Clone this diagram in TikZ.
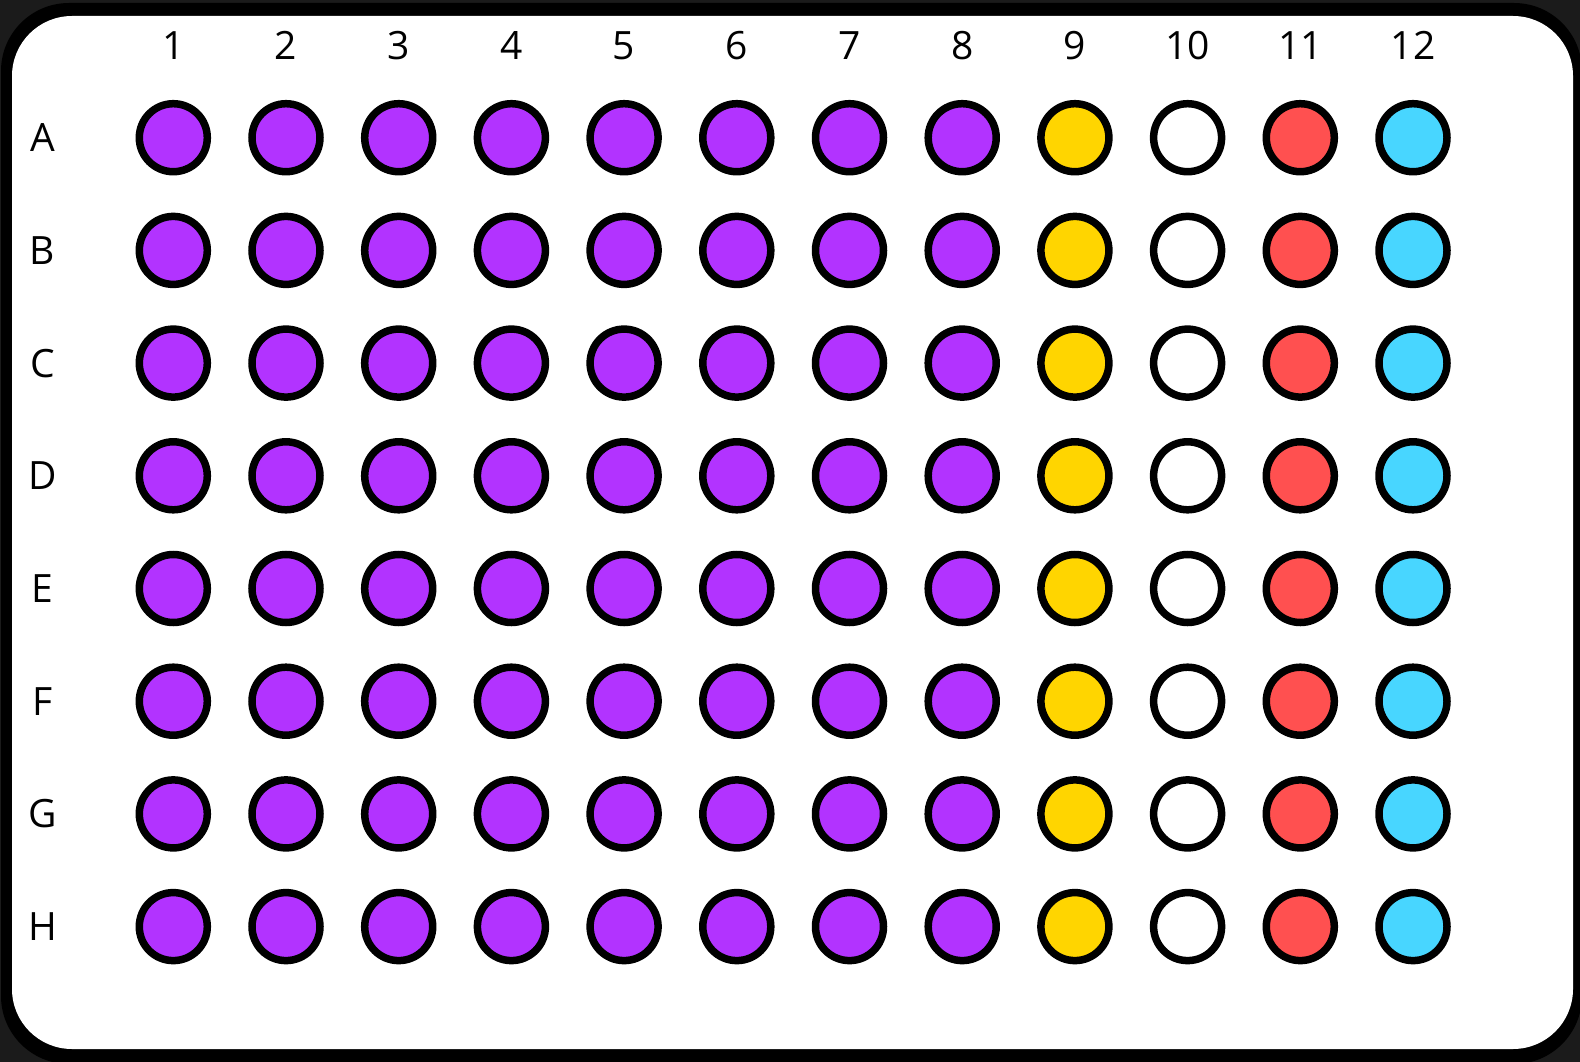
\documentclass[tikz,border=0pt]{standalone}
\usepackage{fontspec}
\setmainfont{Open Sans}
\definecolor{bgdark}{HTML}{1B1B1B}
\definecolor{wpurple}{HTML}{B233FF}
\definecolor{wyellow}{HTML}{FFD500}
\definecolor{wred}{HTML}{FF5050}
\definecolor{wcyan}{HTML}{48D6FF}
\tikzset{
  well/.style={circle, draw=black, line width=7.5pt, minimum size=68pt, inner sep=0pt},
  lbl/.style={font=\fontsize{39}{46}\selectfont, text=black, inner sep=0pt, anchor=center}
}
\begin{document}
\begin{tikzpicture}[x=1pt,y=-1pt]
\useasboundingbox (0,0) rectangle (1580,1062);
\fill[bgdark] (0,0) rectangle (1580,1062);
\fill[black, rounded corners=68pt] (1,3) rectangle (1582,1064);
\fill[white, rounded corners=60pt] (12,16) rectangle (1573,1049);
\foreach \c in {1,...,12} {
  \node[lbl] (col\c) at ({173.3+(\c-1)*112.7},45.5) {\c};
}
\foreach \r [count=\i from 0] in {A,B,C,D,E,F,G,H} {
  \node[lbl] (row\r) at (42.5,{137.7+\i*112.7}) {\r};
  \foreach \c in {1,...,12} {
    \ifnum\c<9 \def\wc{wpurple}\else
      \ifnum\c=9 \def\wc{wyellow}\else
        \ifnum\c=10 \def\wc{white}\else
          \ifnum\c=11 \def\wc{wred}\else \def\wc{wcyan}\fi
        \fi
      \fi
    \fi
    \node[well, fill=\wc] (w\r\c) at ({173.3+(\c-1)*112.7},{137.7+\i*112.7}) {};
  }
}
\end{tikzpicture}
\end{document}
